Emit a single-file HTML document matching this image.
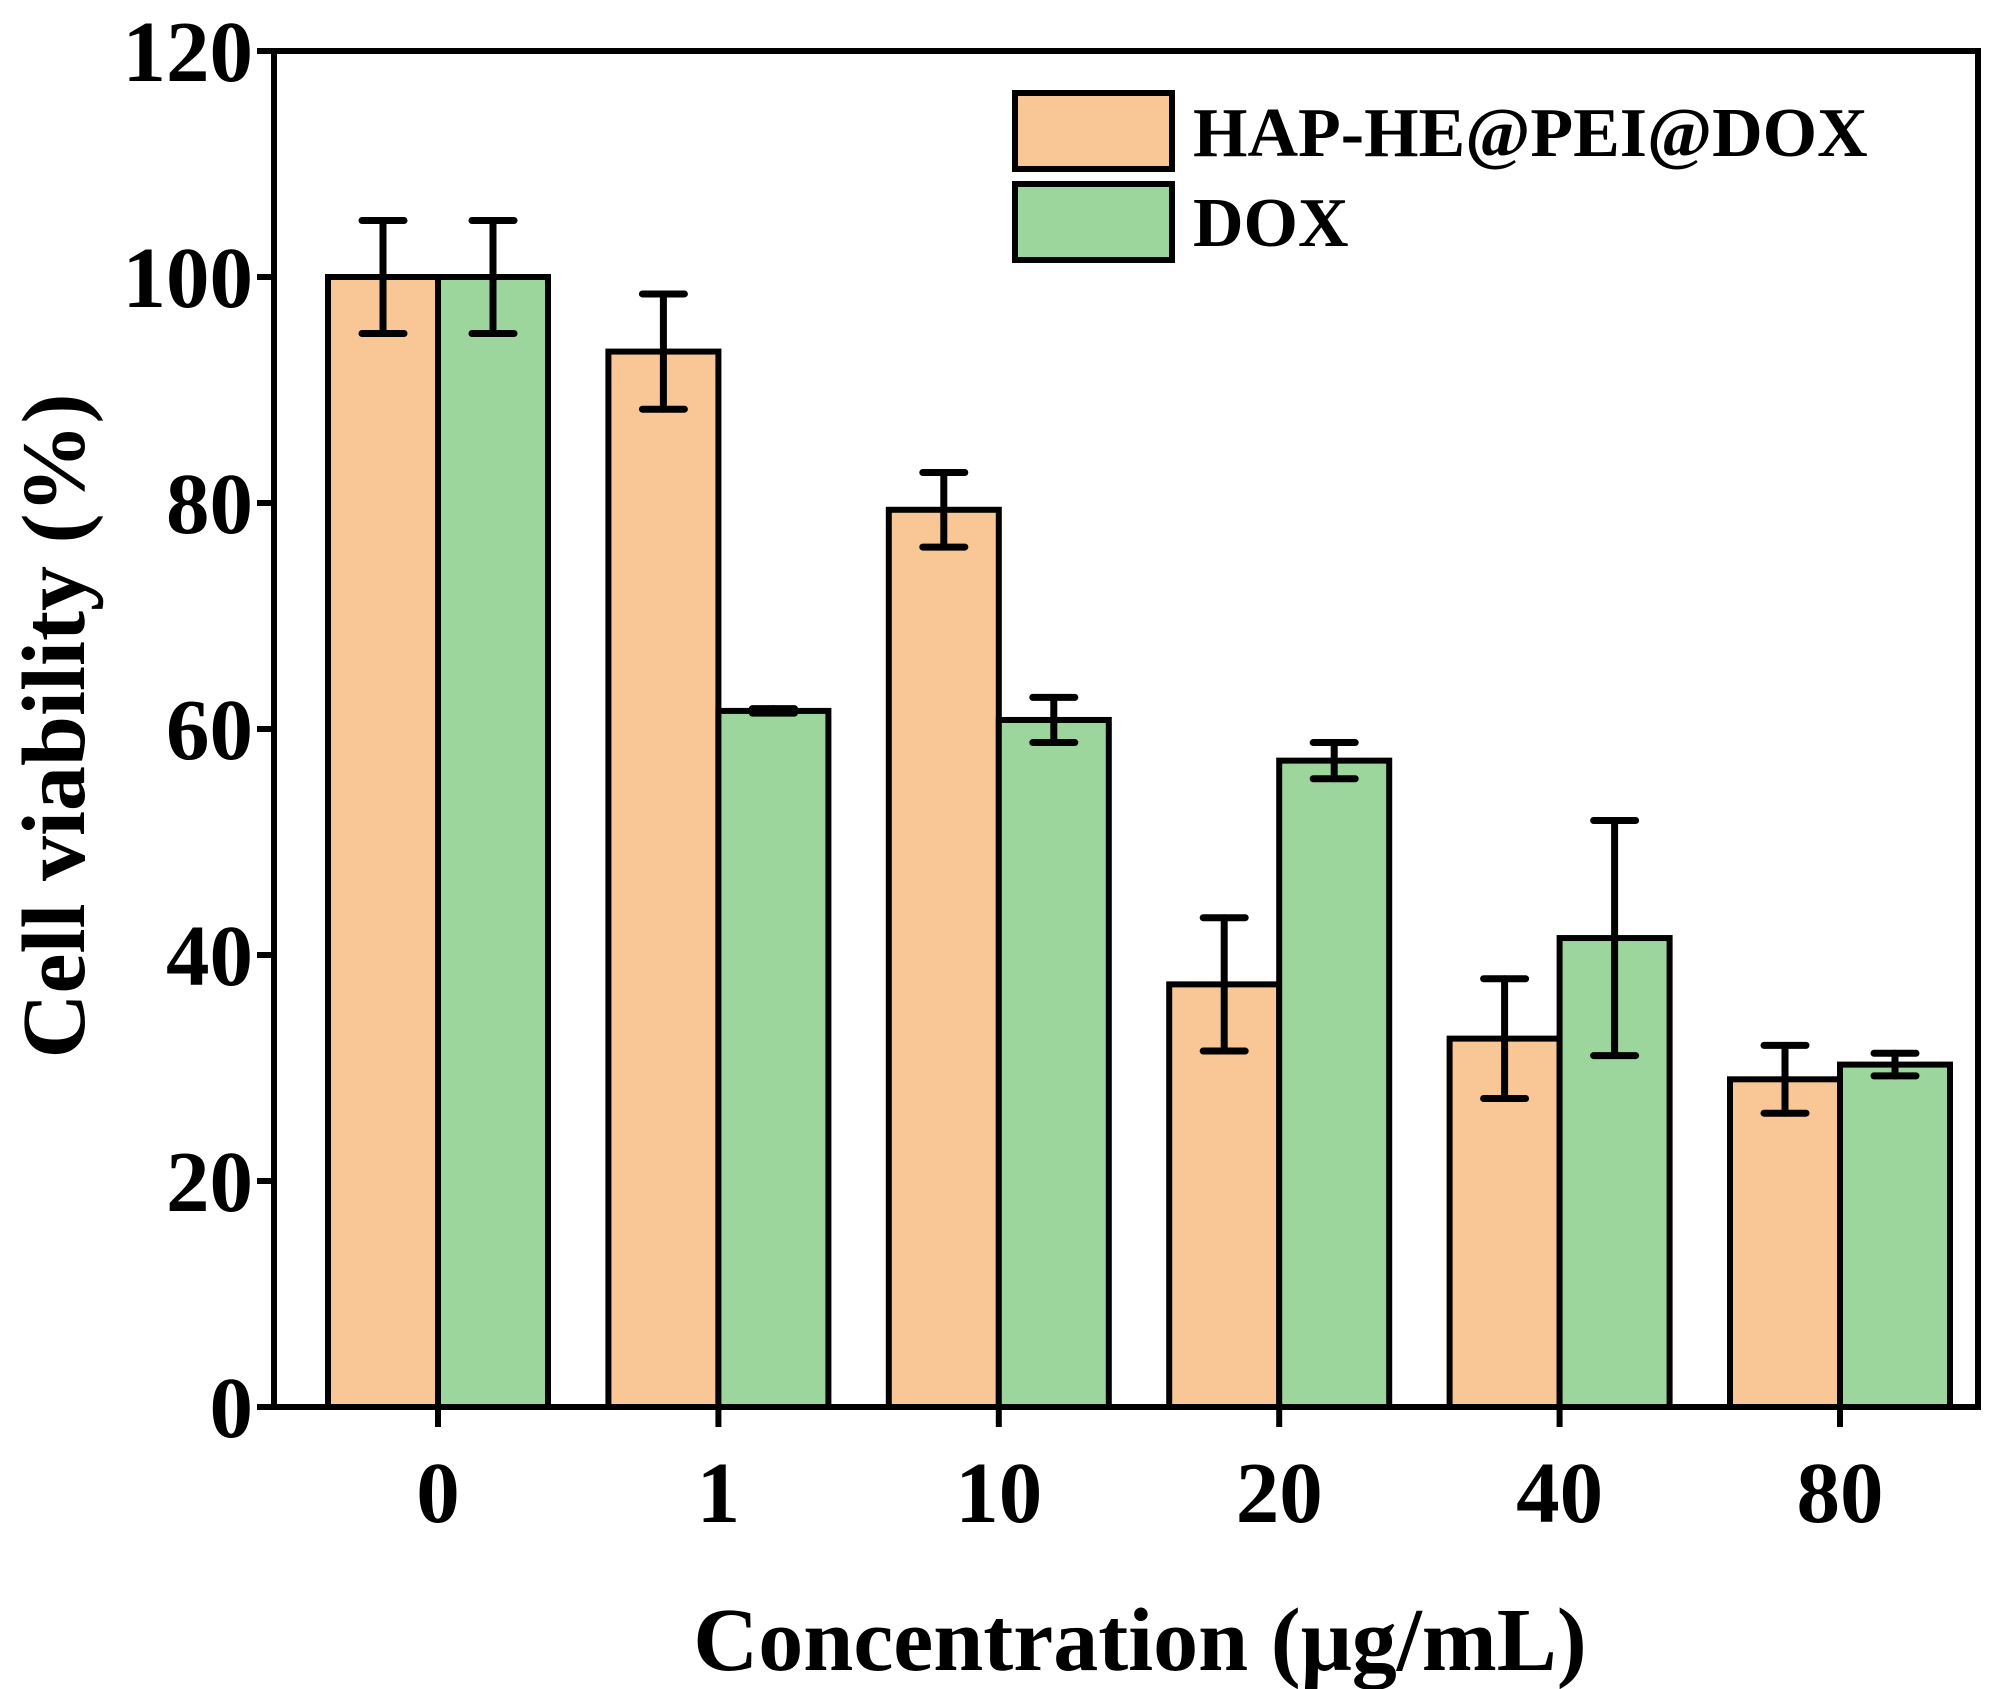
<!DOCTYPE html>
<html><head><meta charset="utf-8"><style>
html,body{margin:0;padding:0;background:#fff;}
svg{display:block;font-family:"Liberation Serif",serif;font-weight:bold;}
</style></head><body>
<svg id="chart" width="1990" height="1689" viewBox="0 0 1990 1689" xmlns="http://www.w3.org/2000/svg">
<g id="plot"></g>
<text x="1140" y="1670" font-size="90" text-anchor="middle">Concentration (μg/mL)</text>
<text transform="translate(84,726) rotate(-90)" font-size="90" text-anchor="middle">Cell viability (%)</text>
<g>
<rect x="1015" y="93" width="157" height="76" fill="#f9c796" stroke="#000" stroke-width="6"/>
<text x="1193" y="156" font-size="70">HAP-HE@PEI@DOX</text>
<rect x="1015" y="184" width="157" height="76" fill="#9dd69c" stroke="#000" stroke-width="6"/>
<text x="1193" y="246" font-size="70">DOX</text>
</g>
</svg>
<script>
const categories = ["0","1","10","20","40","80"];
const hapValues = [100, 93.4, 79.4, 37.4, 32.6, 29.0];
const hapErrors = [5, 5.1, 3.3, 5.9, 5.3, 3.0];
const doxValues = [100, 61.6, 60.8, 57.2, 41.5, 30.3];
const doxErrors = [5, 0.2, 2.0, 1.6, 10.4, 1.0];
const yTicks = [0, 20, 40, 60, 80, 100, 120];

const L=274, R=1978, T=51, B=1407, yMax=120;
const ns="http://www.w3.org/2000/svg";
const g=document.getElementById('plot');
function y(v){return B-(v/yMax)*(B-T);}
function xc(i){return 438+i*((1840-438)/(categories.length-1));}
const bw=110;
function mk(tag,attrs){const e=document.createElementNS(ns,tag);for(const k in attrs)e.setAttribute(k,attrs[k]);g.appendChild(e);return e;}

function bar(i,v,err,fill,side,name){
  const x0 = side<0 ? xc(i)-bw : xc(i);
  const r=mk('rect',{x:x0,y:y(v),width:bw,height:B-y(v),fill:fill,stroke:'#000','stroke-width':6});
  
  
  const cx=x0+bw/2;
  const eg=document.createElementNS(ns,'g');
  
  
  g.appendChild(eg);
  [[cx,y(v+err),cx,y(v-err)],[cx-21,y(v+err),cx+21,y(v+err)],[cx-21,y(v-err),cx+21,y(v-err)]].forEach(c=>{
    const l=document.createElementNS(ns,'line');
    l.setAttribute('x1',c[0]);l.setAttribute('y1',c[1]);l.setAttribute('x2',c[2]);l.setAttribute('y2',c[3]);
    l.setAttribute('stroke','#000');l.setAttribute('stroke-width',7);l.setAttribute('stroke-linecap','round');
    eg.appendChild(l);
  });
}
categories.forEach((c,i)=>{
  bar(i,hapValues[i],hapErrors[i],'#f9c796',-1,'hap');
  bar(i,doxValues[i],doxErrors[i],'#9dd69c',1,'dox');
});
const fr=mk('rect',{x:L,y:T,width:R-L,height:B-T,fill:'none',stroke:'#000','stroke-width':6});


yTicks.forEach(t=>{
  const l=mk('line',{x1:L-17,x2:L,y1:y(t),y2:y(t),stroke:'#000','stroke-width':6});
  
  
  const tx=mk('text',{x:253,y:y(t)+30,'font-size':87,'text-anchor':'end'});
  tx.textContent=t;
  
  
});
categories.forEach((c,i)=>{
  const l=mk('line',{x1:xc(i),x2:xc(i),y1:B,y2:B+20,stroke:'#000','stroke-width':6});
  
  
  const tx=mk('text',{x:xc(i),y:1522,'font-size':87,'text-anchor':'middle'});
  tx.textContent=c;
  
  
});
</script>
</body></html>
